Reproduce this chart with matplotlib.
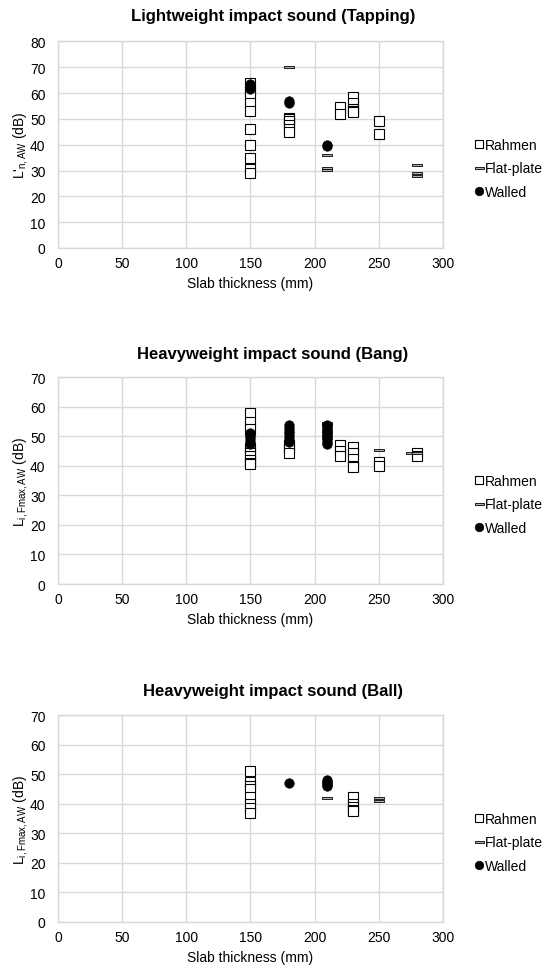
import matplotlib
matplotlib.use("Agg")
import matplotlib.pyplot as plt
from matplotlib.path import Path

plt.rcParams['font.family'] = ['Liberation Sans', 'DejaVu Sans']
plt.rcParams['mathtext.fontset'] = 'custom'
plt.rcParams['mathtext.rm'] = 'Liberation Sans'
plt.rcParams['mathtext.it'] = 'Liberation Sans:italic'

# Lightweight impact sound (Tapping)
tap_rahmen_x = [150, 150, 150, 150, 150, 150, 150, 150, 150, 150,
                180, 180, 180, 180, 180, 180,
                220, 220, 230, 230, 230, 230, 230, 250, 250]
tap_rahmen_y = [64, 61, 59.5, 56, 53, 46, 40, 35, 30.5, 29,
                50.5, 50, 49, 47.5, 46, 45,
                54.5, 52, 58.5, 56, 54, 53, 52.5, 49, 44]
tap_flat_x = [180, 210, 210, 210, 280, 280, 280]
tap_flat_y = [70, 36, 31, 30.3, 32, 29, 28]
tap_wall_x = [150, 150, 150, 180, 180, 210, 210]
tap_wall_y = [63.5, 62.5, 61.5, 57, 56, 40, 39.6]

# Heavyweight impact sound (Bang)
bang_rahmen_x = [150, 150, 150, 150, 150, 150, 150, 150, 150,
                 180, 180, 180,
                 220, 220, 220, 230, 230, 230, 230, 230,
                 250, 250, 280, 280]
bang_rahmen_y = [58, 55, 52.5, 46, 44.5, 43.5, 42, 41, 40.5,
                 47, 46, 44.5,
                 47, 45, 43.5, 46.5, 44.5, 42.5, 40, 39.5,
                 41.5, 40, 44.3, 43.2]
bang_flat_x = [210, 210, 250, 275, 280]
bang_flat_y = [54.5, 54, 45.5, 44.5, 44.3]
bang_wall_x = [150, 150, 150, 150, 150, 150,
               180, 180, 180, 180, 180, 180, 180,
               210, 210, 210, 210, 210, 210, 210, 210, 210, 210, 210, 210]
bang_wall_y = [51, 50.5, 50, 49, 48, 47.5,
               54, 53, 52, 51, 50, 49, 48,
               54, 53, 52.5, 52, 51.5, 51, 50.5, 50, 49.5, 49, 48, 47.5]

# Heavyweight impact sound (Ball)
ball_rahmen_x = [150, 150, 150, 150, 150, 150, 150, 150,
                 230, 230, 230, 230, 230]
ball_rahmen_y = [51, 47.5, 46, 45, 42.5, 40, 38.5, 37,
                 42.5, 40, 39, 38, 37.5]
ball_flat_x = [210, 250, 250]
ball_flat_y = [42, 42, 41]
ball_wall_x = [180, 210, 210, 210, 210, 210]
ball_wall_y = [47, 48, 47.5, 47, 46.5, 46]

panels = [
    ("Lightweight impact sound (Tapping)", r"L'$_{\mathrm{n,AW}}$ (dB)", 80,
     (tap_rahmen_x, tap_rahmen_y), (tap_flat_x, tap_flat_y), (tap_wall_x, tap_wall_y)),
    ("Heavyweight impact sound (Bang)", r"L$_{\mathrm{i,Fmax,AW}}$ (dB)", 70,
     (bang_rahmen_x, bang_rahmen_y), (bang_flat_x, bang_flat_y), (bang_wall_x, bang_wall_y)),
    ("Heavyweight impact sound (Ball)", r"L$_{\mathrm{i,Fmax,AW}}$ (dB)", 70,
     (ball_rahmen_x, ball_rahmen_y), (ball_flat_x, ball_flat_y), (ball_wall_x, ball_wall_y)),
]

# thin flat rectangle for the Flat-plate marker
dash = Path([(-1, -0.27), (1, -0.27), (1, 0.27), (-1, 0.27), (-1, -0.27)],
            [Path.MOVETO, Path.LINETO, Path.LINETO, Path.LINETO, Path.CLOSEPOLY])

fig = plt.figure(figsize=(5.46, 9.70), dpi=100)
bottoms = [0.7433, 0.3969, 0.0485]
title_y = [0.9825, 0.635, 0.2866]
grid_c = '#d9d9d9'

for i, (title, ylab, ymax, rah, flat, wall) in enumerate(panels):
    ax = fig.add_axes([0.1062, bottoms[i], 0.7051, 0.213])
    ax.plot(rah[0], rah[1], ls='none', marker='s', ms=6.8, mfc='white',
            mec='black', mew=0.8, label='Rahmen', zorder=3)
    ax.plot(flat[0], flat[1], ls='none', marker=dash, ms=7.2, mfc='#b0b0b0',
            mec='black', mew=0.6, label='Flat-plate', zorder=4)
    ax.plot(wall[0], wall[1], ls='none', marker='o', ms=6.8, mfc='black',
            mec='black', mew=0.5, label='Walled', zorder=5)
    ax.set_xlim(0, 300)
    ax.set_ylim(0, ymax)
    ax.set_xticks(range(0, 301, 50))
    ax.set_yticks(range(0, ymax + 1, 10))
    ax.grid(True, color=grid_c, lw=1)
    ax.set_axisbelow(True)
    for s in ax.spines.values():
        s.set_color(grid_c)
        s.set_linewidth(1)
    ax.tick_params(axis='x', length=0, labelsize=10, pad=6)
    ax.tick_params(axis='y', length=0, labelsize=10, pad=9)
    ax.set_xlabel("Slab thickness (mm)", fontsize=10, labelpad=4)
    ax.set_ylabel(ylab, fontsize=10, labelpad=0)
    ax.legend(loc='center left', bbox_to_anchor=(1.065, 0.385), frameon=False,
              fontsize=10, handlelength=0.6, handletextpad=0.15,
              labelspacing=0.7, borderpad=0, markerscale=0.9)
    fig.text(0.5, title_y[i], title, ha='center', va='center',
             fontsize=12, fontweight='bold')

plt.savefig("out.png", dpi=100)
